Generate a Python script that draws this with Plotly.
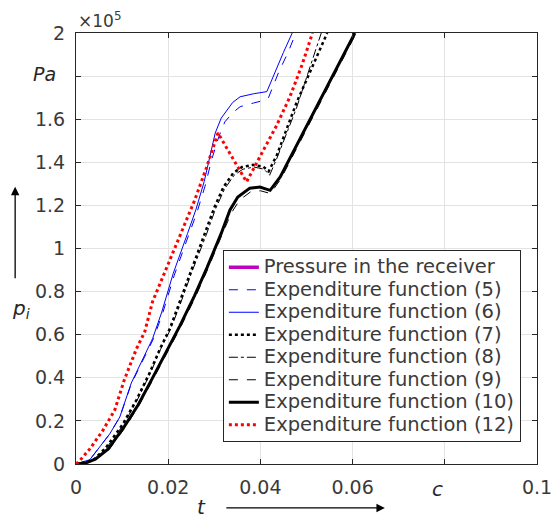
import plotly.graph_objects as go

# Time axis (s) and pressure (Pa) for each expenditure-function model
t_receiver = [None]
p_receiver = [None]

t_f5 = [0, 0.003, 0.0073, 0.0095, 0.0120, 0.0153, 0.0168, 0.0188, 0.0213, 0.0244, 0.0262,
        0.0280, 0.0294, 0.0310, 0.0323, 0.0340, 0.0356, 0.0385, 0.0405, 0.0417, 0.0440,
        0.0460, 0.0477]
p_f5 = [0, 2000, 13900, 21800, 37200, 51500, 58100, 70000, 87500, 106000, 116500,
        129000, 141000, 152000, 158800, 163000, 165800, 167500, 168600, 169700, 182000,
        191000, 200000]

t_f6 = [0, 0.003, 0.0073, 0.0095, 0.0120, 0.0153, 0.0166, 0.0186, 0.0211, 0.0242, 0.0260,
        0.0278, 0.0302, 0.0315, 0.0327, 0.0340, 0.0356, 0.0385, 0.0414, 0.0430, 0.0450,
        0.0469]
p_f6 = [0, 2000, 13900, 21800, 37600, 51900, 58100, 70500, 88500, 107000, 118000,
        131000, 153600, 160500, 164300, 167800, 170400, 171800, 172800, 181000, 191000,
        200000]

t_f7 = [0, 0.0020, 0.0040, 0.0065, 0.0102, 0.0131, 0.0160, 0.0182, 0.0204, 0.0223, 0.0250,
        0.0280, 0.0300, 0.0320, 0.0341, 0.0360, 0.0384, 0.0406, 0.0418, 0.0436, 0.0479,
        0.0545]
p_f7 = [0, 500, 2300, 7600, 18650, 29700, 42400, 53400, 63000, 74000, 90000,
        106600, 119000, 128500, 135000, 137800, 138800, 138000, 135800, 143500, 168000,
        200000]

t_f8 = [0, 0.0020, 0.0041, 0.0066, 0.0103, 0.0132, 0.0161, 0.0183, 0.0205, 0.0225, 0.0252,
        0.0282, 0.0302, 0.0322, 0.0343, 0.0362, 0.0386, 0.0408, 0.0420, 0.0436, 0.0478,
        0.0532]
p_f8 = [0, 480, 2300, 7400, 18300, 29300, 42000, 53000, 62500, 73500, 89500,
        106000, 118000, 127500, 134000, 136800, 137800, 136800, 134000, 142000, 165000,
        200000]

t_f9 = [0, 0.0021, 0.0043, 0.0072, 0.0107, 0.0137, 0.0167, 0.0197, 0.0227, 0.0259, 0.0286,
        0.0317, 0.0337, 0.0355, 0.0380, 0.0400, 0.0422, 0.0445, 0.0608]
p_f9 = [0, 450, 2100, 6800, 17000, 27300, 39200, 51000, 63500, 77500, 90500,
        106500, 116500, 122500, 126500, 126800, 125500, 132500, 200000]

t_f10 = [0, 0.0021, 0.0042, 0.0070, 0.0105, 0.0135, 0.0165, 0.0195, 0.0225, 0.0257, 0.0284,
         0.0315, 0.0334, 0.0351, 0.0377, 0.0399, 0.0421, 0.0443, 0.0605]
p_f10 = [0, 480, 2200, 7000, 17500, 27500, 39500, 51500, 64000, 78000, 91000,
         107000, 117900, 123900, 128000, 128500, 127000, 133200, 200000]

t_f12 = [0, 0.0007, 0.0030, 0.0058, 0.0084, 0.0105, 0.0131, 0.0149, 0.0166, 0.0196, 0.0227,
         0.0257, 0.0283, 0.0308, 0.0330, 0.0350, 0.0370, 0.0403, 0.0435, 0.0464, 0.0490,
         0.0513]
p_f12 = [0, 1300, 7000, 15500, 25000, 39200, 53400, 61300, 75300, 90900, 106600,
         122200, 137500, 153600, 145500, 138000, 130900, 144200, 157000, 170400, 185000,
         200000]

x_tickvals = [0, 0.02, 0.04, 0.06, 0.08, 0.1]
x_ticktext = ["0", "0.02", "0.04", "0.06", "", "0.1"]
y_tickvals = [0, 20000, 40000, 60000, 80000, 100000, 120000, 140000, 160000, 180000, 200000]
y_ticktext = ["0", "0.2", "0.4", "0.6", "0.8", "1", "1.2", "1.4", "1.6", "", "2"]

series = [
    ("Pressure in the receiver", t_receiver, p_receiver, "#BF00BF", 3.5, "solid"),
    ("Expenditure function (5)", t_f5, p_f5, "#0000FF", 1, "dash"),
    ("Expenditure function (6)", t_f6, p_f6, "#0000FF", 1, "solid"),
    ("Expenditure function (7)", t_f7, p_f7, "#000000", 2.5, "dot"),
    ("Expenditure function (8)", t_f8, p_f8, "#000000", 1, "dashdot"),
    ("Expenditure function (9)", t_f9, p_f9, "#000000", 1, "dash"),
    ("Expenditure function (10)", t_f10, p_f10, "#000000", 3, "solid"),
    ("Expenditure function (12)", t_f12, p_f12, "#FF0000", 3, "dot"),
]

TEXT = "#3a3a3a"
BIG = 19.5

fig = go.Figure()
for name, tx, py, color, width, dash in series:
    fig.add_trace(go.Scatter(
        x=tx, y=py, mode="lines",
        name=f'<span style="font-size:{BIG}px">{name}</span>',
        line=dict(color=color, width=width, dash=dash),
    ))

axis_common = dict(
    showline=True, linecolor="#262626", linewidth=1, mirror="ticks",
    ticks="inside", ticklen=5, tickcolor="#262626",
    showgrid=True, gridcolor="#E3E3E3", gridwidth=1,
    zeroline=False, automargin=False, ticklabeloverflow="allow",
    tickfont=dict(family="DejaVu Sans", size=19, color=TEXT),
)

fig.update_xaxes(range=[0, 0.1], tickvals=x_tickvals, ticktext=x_ticktext,
                 ticklabelstandoff=6, **axis_common)
fig.update_yaxes(range=[0, 200000], tickvals=y_tickvals, ticktext=y_ticktext,
                 ticklabelstandoff=6, **axis_common)

fig.update_layout(
    width=552, height=519,
    margin=dict(l=76, r=15, t=33, b=55),
    paper_bgcolor="white", plot_bgcolor="white",
    font=dict(family="DejaVu Sans", size=15, color=TEXT),
    showlegend=True,
    legend=dict(
        x=0.965, y=0.4965, xanchor="right", yanchor="top",
        bgcolor="white", bordercolor="#262626", borderwidth=1,
        font=dict(family="DejaVu Sans", size=15, color=TEXT),
        tracegroupgap=0, itemwidth=30,
    ),
    annotations=[
        dict(text="×10<sup>5</sup>", xref="paper", yref="paper", x=0.0, y=1.0,
             xanchor="left", yanchor="bottom", showarrow=False,
             font=dict(size=17, color=TEXT)),
        dict(text="<i>Pa</i>", xref="paper", yref="paper", x=-0.069, y=0.905,
             xanchor="center", yanchor="middle", showarrow=False,
             font=dict(size=19, color="#262626")),
        dict(text="<i>c</i>", xref="paper", yref="paper", x=0.785, y=-0.058,
             xanchor="center", yanchor="middle", showarrow=False,
             font=dict(size=20, color="#262626")),
        dict(text="<i>p<sub>i</sub></i>", xref="paper", yref="paper",
             x=-0.12, y=0.36, xanchor="center", yanchor="middle", showarrow=False,
             font=dict(size=20, color="#262626")),
        dict(text="", xref="paper", yref="paper", x=-0.132, y=0.643,
             ax=0, ay=93, showarrow=True, arrowhead=2, arrowsize=1.3,
             arrowwidth=1.3, arrowcolor="#000000"),
        dict(text="<i>t</i>", xref="paper", yref="paper", x=0.273, y=-0.1,
             xanchor="center", yanchor="middle", showarrow=False,
             font=dict(size=20, color="#262626")),
        dict(text="", xref="paper", yref="paper", x=0.67, y=-0.102,
             ax=-160, ay=0, showarrow=True, arrowhead=2, arrowsize=1.3,
             arrowwidth=1.3, arrowcolor="#000000"),
    ],
)

fig.write_html("out.html")
